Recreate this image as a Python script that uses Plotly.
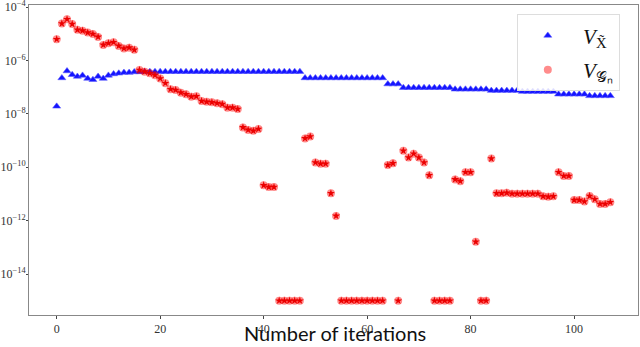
import plotly.graph_objects as go

iterations = list(range(108))

v_xtilde = [
    1.9e-8, 2.2e-7, 4.0e-7, 2.9e-7, 2.5e-7, 2.75e-7, 2.1e-7, 1.9e-7, 2.5e-7, 2.1e-7,
    2.75e-7, 3.1e-7, 3.3e-7, 3.5e-7, 3.5e-7, 3.7e-7, 3.7e-7, 3.8e-7, 3.8e-7, 3.8e-7,
    3.8e-7, 3.8e-7, 3.8e-7, 3.8e-7, 3.8e-7, 3.8e-7, 3.8e-7, 3.8e-7, 3.8e-7, 3.8e-7,
    3.8e-7, 3.8e-7, 3.8e-7, 3.8e-7, 3.8e-7, 3.8e-7, 3.8e-7, 3.8e-7, 3.8e-7, 3.8e-7,
    3.8e-7, 3.8e-7, 3.8e-7, 3.8e-7, 3.8e-7, 3.8e-7, 3.8e-7, 3.8e-7, 2.2e-7, 2.2e-7,
    2.2e-7, 2.2e-7, 2.2e-7, 2.2e-7, 2.2e-7, 2.2e-7, 2.2e-7, 2.2e-7, 2.2e-7, 2.2e-7,
    2.2e-7, 2.2e-7, 2.2e-7, 2.2e-7, 1.3e-7, 1.3e-7, 1.3e-7, 9.5e-8, 9.5e-8, 9.5e-8,
    9.5e-8, 9.5e-8, 9.5e-8, 9.5e-8, 9.5e-8, 9.5e-8, 9.5e-8, 8.3e-8, 8.3e-8, 8.3e-8,
    8.3e-8, 8.3e-8, 8.3e-8, 8.3e-8, 7.4e-8, 7.4e-8, 7.4e-8, 7.4e-8, 7.4e-8, 7.4e-8,
    6.8e-8, 6.8e-8, 6.8e-8, 6.8e-8, 6.8e-8, 6.8e-8, 6.8e-8, 5.4e-8, 5.4e-8, 5.4e-8,
    5.4e-8, 5.4e-8, 5.4e-8, 4.7e-8, 4.7e-8, 4.7e-8, 4.7e-8, 4.7e-8,
]

v_gn = [
    6.2e-6, 2.4e-5, 3.5e-5, 2.3e-5, 1.4e-5, 1.3e-5, 1.1e-5, 9.8e-6, 7.6e-6, 3.8e-6,
    4.4e-6, 4.8e-6, 3.5e-6, 2.8e-6, 3.0e-6, 2.5e-6, 4.4e-7, 3.8e-7, 3.3e-7, 2.8e-7,
    2.1e-7, 1.4e-7, 8.3e-8, 7.8e-8, 6.2e-8, 5.4e-8, 4.4e-8, 4.5e-8, 3.0e-8, 2.8e-8,
    2.7e-8, 2.5e-8, 2.3e-8, 1.7e-8, 1.7e-8, 1.5e-8, 3.1e-9, 2.5e-9, 2.3e-9, 2.7e-9,
    2.1e-11, 1.8e-11, 1.8e-11, 1e-15, 1e-15, 1e-15, 1e-15, 1e-15, 1.2e-9, 1.4e-9,
    1.5e-10, 1.35e-10, 1.35e-10, 1.05e-11, 1.5e-12, 1e-15, 1e-15, 1e-15, 1e-15, 1e-15,
    1e-15, 1e-15, 1e-15, 1e-15, 1.2e-10, 1.4e-10, 1e-15, 4.1e-10, 2.3e-10, 3.2e-10,
    2.3e-10, 1.5e-10, 5.0e-11, 1e-15, 1e-15, 1e-15, 1e-15, 3.5e-11, 3.0e-11, 6.5e-11,
    6.5e-11, 1.6e-13, 1e-15, 1e-15, 2.1e-10, 1.05e-11, 1.05e-11, 1.1e-11, 1.02e-11, 1.02e-11,
    1.02e-11, 1.02e-11, 1.02e-11, 1.02e-11, 8.1e-12, 7.8e-12, 8.1e-12, 6.5e-11, 4.7e-11, 4.7e-11,
    5.9e-12, 5.9e-12, 5.2e-12, 8.3e-12, 6.3e-12, 4.2e-12, 4.2e-12, 4.9e-12,
]

x_ticks = [0, 20, 40, 60, 80, 100]
y_ticks = [1e-14, 1e-12, 1e-10, 1e-8, 1e-6, 1e-4]
y_ticklabels = ["10<sup>−14</sup>", "10<sup>−12</sup>", "10<sup>−10</sup>",
                "10<sup>−8</sup>", "10<sup>−6</sup>", "10<sup>−4</sup>"]

label_x = " <i>V</i><sub>X̃</sub>"
label_g = " <i>V</i><sub>𝒢ₙ</sub>"
x_title = "Number of iterations"

fig = go.Figure()
fig.add_trace(go.Scatter(
    x=iterations, y=v_xtilde, mode="markers", name=label_x,
    marker=dict(symbol="triangle-up", size=7, color="rgb(20,20,255)",
                line=dict(width=1, color="rgba(90,90,255,0.55)")),
))
fig.add_trace(go.Scatter(
    x=iterations, y=v_gn, mode="markers", name=label_g,
    legendgroup="g",
    marker=dict(symbol="circle", size=8, color="rgba(255,0,0,0.45)", line=dict(width=0)),
))
fig.add_trace(go.Scatter(
    x=iterations, y=v_gn, mode="markers", showlegend=False, legendgroup="g",
    marker=dict(symbol="star", size=6, color="rgb(235,0,0)", line=dict(width=0)),
))

tickfont = dict(family="Liberation Serif", size=12, color="#333")

fig.update_layout(
    width=640, height=347,
    margin=dict(l=29, r=2, t=5, b=32),
    paper_bgcolor="white", plot_bgcolor="white",
    showlegend=True,
    legend=dict(
        x=0.801, y=0.97, xanchor="left", yanchor="top",
        bgcolor="rgba(255,255,255,0.85)", bordercolor="#dddddd", borderwidth=1,
        font=dict(family="Liberation Serif", size=21, color="#111"),
        itemwidth=50, tracegroupgap=4,
    ),
    xaxis=dict(
        range=[-5.35, 112.35], tickvals=x_ticks, ticks="outside", ticklen=3,
        tickcolor="#444", showgrid=False, zeroline=False,
        showline=True, linecolor="#888", linewidth=1, mirror=True,
        tickfont=tickfont, automargin=False,
    ),
    yaxis=dict(
        type="log", range=[-15.535, -3.925], tickvals=y_ticks, ticktext=y_ticklabels,
        ticks="outside", ticklen=2, tickcolor="#444", showgrid=False, zeroline=False,
        showline=True, linecolor="#888", linewidth=1, mirror=True,
        tickfont=tickfont, automargin=False, ticklabeloverflow="allow",
        ticklabelstandoff=-2,
    ),
    annotations=[dict(
        text=x_title, xref="paper", yref="paper", x=0.502, y=-0.1032,
        xanchor="center", yanchor="bottom", showarrow=False,
        font=dict(family="Lato", size=20, color="#111"),
    )],
)

fig.write_html("out.html", config={"displayModeBar": False},
               post_script="document.body.style.margin='0';")
